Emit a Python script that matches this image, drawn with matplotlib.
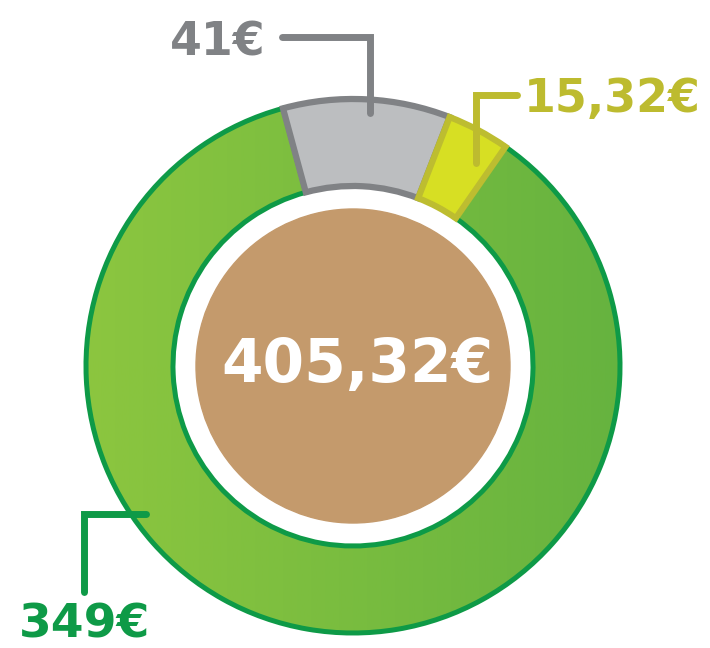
import numpy as np
import matplotlib
matplotlib.use("Agg")
import matplotlib.pyplot as plt
from matplotlib.patches import Circle
from matplotlib.colors import LinearSegmentedColormap

# data
labels = ["41€", "15,32€", "349€"]
values = [41, 15.32, 349]
total_label = "405,32€"

fill_colors = ["#BCBEC0", "#D7DF23", "#7BBE3F"]
edge_colors = ["#808285", "#BDBD30", "#0E9A47"]
text_colors = ["#808285", "#BDBB2F", "#0E9A47"]
FONT = "DejaVu Sans"

W, H = 710, 648
fig = plt.figure(figsize=(7.1, 6.48), dpi=100)
ax = fig.add_axes([0, 0, 1, 1])

def py(y):
    # pixel row -> data y
    return H - y

cx, cy = 353, py(366)
R, ring_w = 267, 87

wedges, _ = ax.pie(values, startangle=105.2, counterclock=False,
                   radius=R, center=(cx, cy), colors=fill_colors,
                   wedgeprops=dict(width=ring_w, linewidth=0))

# gradient fill for the green ring part
grad = np.linspace(0, 1, 256).reshape(1, -1)
cmap = LinearSegmentedColormap.from_list("g", ["#8CC63F", "#66B33F"])
im = ax.imshow(grad, cmap=cmap, extent=(cx - R, cx + R, cy - R, cy + R),
               aspect="auto", zorder=1)
im.set_clip_path(wedges[2])
wedges[2].set_facecolor("none")
wedges[2].set_zorder(2)
wedges[2].set_edgecolor(edge_colors[2])
wedges[2].set_linewidth(3.6)

for i in (0, 1):
    wedges[i].set_edgecolor(edge_colors[i])
    wedges[i].set_linewidth(4.5)
    wedges[i].set_joinstyle("miter")
    wedges[i].set_zorder(3)

ax.add_patch(Circle((cx, cy), 157, color="#C49A6C", zorder=4))
ax.text(357, py(382), total_label, color="white", fontsize=43,
        fontweight="bold", family=FONT, ha="center", va="baseline", zorder=5)

# leader lines (pixel coords)
leaders = [
    [(282, 37), (370, 37), (370, 113)],
    [(517, 95), (476, 95), (476, 163)],
    [(146, 514), (84, 514), (84, 592)],
]
line_colors = ["#808285", "#BDBB2F", "#0E9A47"]
for pts, c in zip(leaders, line_colors):
    xs = [p[0] for p in pts]
    ys = [py(p[1]) for p in pts]
    ax.plot(xs, ys, color=c, lw=5,
            solid_capstyle="round", solid_joinstyle="miter", zorder=6)

ax.text(266, py(55), labels[0], color=text_colors[0], fontsize=33,
        fontweight="bold", family=FONT, ha="right", va="baseline")
ax.text(524, py(112), labels[1], color=text_colors[1], fontsize=33,
        fontweight="bold", family=FONT, ha="left", va="baseline")
ax.text(19, py(638), labels[2], color=text_colors[2], fontsize=34,
        fontweight="bold", family=FONT, ha="left", va="baseline")

ax.set_xlim(0, W)
ax.set_ylim(0, H)
ax.set_aspect("auto")
ax.axis("off")

fig.savefig("out.png", dpi=100)
